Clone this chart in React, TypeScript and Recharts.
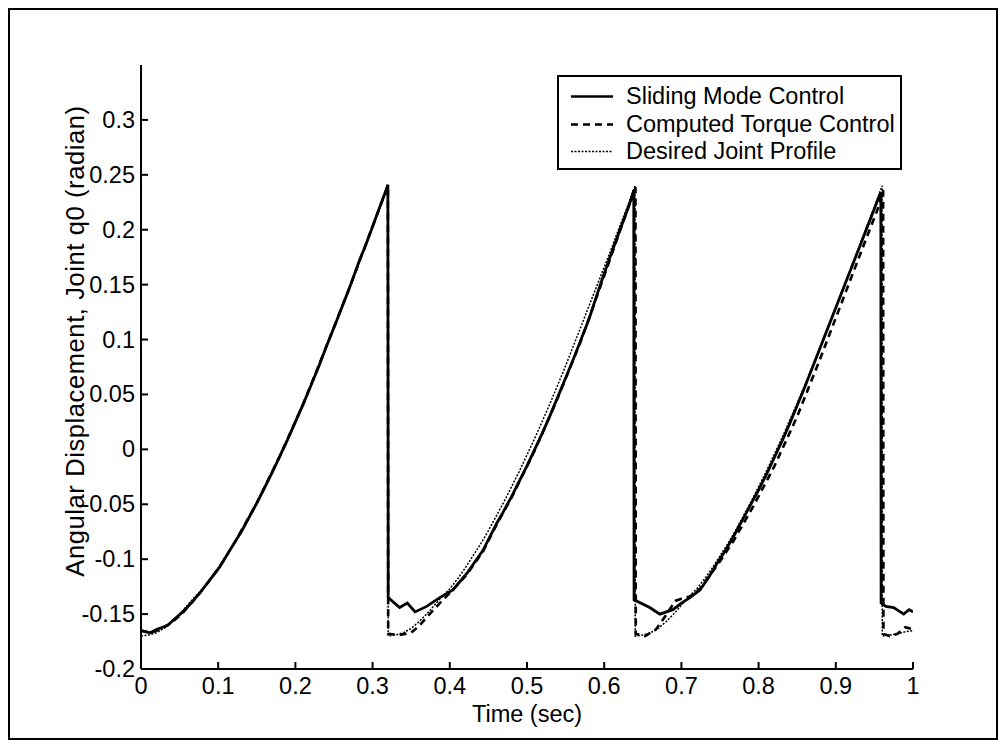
import React from "react";
import { LineChart, Line, XAxis, YAxis } from "recharts";

const FONT = '"Liberation Sans", Arial, Helvetica, sans-serif';
const FS = 23.5;

// Desired joint profile (dotted)
const desiredTime = [
  0, 0.01, 0.02, 0.03, 0.04, 0.05, 0.06, 0.07, 0.08, 0.09, 0.1, 0.11, 0.12, 0.13, 0.14, 0.15, 0.16,
  0.17, 0.18, 0.19, 0.2, 0.21, 0.22, 0.23, 0.24, 0.25, 0.26, 0.27, 0.28, 0.29, 0.3, 0.31, 0.32,
  0.3202, 0.33, 0.34, 0.35, 0.36, 0.37, 0.38, 0.39, 0.4, 0.41, 0.42, 0.43, 0.44, 0.45, 0.46, 0.47,
  0.48, 0.49, 0.5, 0.51, 0.52, 0.53, 0.54, 0.55, 0.56, 0.57, 0.58, 0.59, 0.6, 0.61, 0.62, 0.63, 0.64,
  0.6402, 0.65, 0.66, 0.67, 0.68, 0.69, 0.7, 0.71, 0.72, 0.73, 0.74, 0.75, 0.76, 0.77, 0.78, 0.79,
  0.8, 0.81, 0.82, 0.83, 0.84, 0.85, 0.86, 0.87, 0.88, 0.89, 0.9, 0.91, 0.92, 0.93, 0.94, 0.95, 0.96,
  0.9602, 0.97, 0.98, 0.99, 1,
];
const desiredValue = [
  -0.17, -0.169, -0.167, -0.163, -0.157, -0.15, -0.142, -0.134, -0.127, -0.118, -0.108, -0.097, -0.086,
  -0.074, -0.061, -0.048, -0.034, -0.02, -0.005, 0.01, 0.026, 0.042, 0.059, 0.076, 0.094, 0.112, 0.13,
  0.148, 0.166, 0.184, 0.203, 0.221, 0.24,
  -0.17, -0.169, -0.167, -0.163, -0.157, -0.15, -0.142, -0.134, -0.127, -0.118, -0.108, -0.097, -0.086,
  -0.074, -0.061, -0.048, -0.034, -0.02, -0.005, 0.01, 0.026, 0.042, 0.059, 0.076, 0.094, 0.112, 0.13,
  0.148, 0.166, 0.184, 0.203, 0.221, 0.24,
  -0.17, -0.169, -0.167, -0.163, -0.157, -0.15, -0.142, -0.134, -0.127, -0.118, -0.108, -0.097, -0.086,
  -0.074, -0.061, -0.048, -0.034, -0.02, -0.005, 0.01, 0.026, 0.042, 0.059, 0.076, 0.094, 0.112, 0.13,
  0.148, 0.166, 0.184, 0.203, 0.221, 0.24,
  -0.17, -0.169, -0.168, -0.166, -0.165,
];

// Sliding mode control (solid)
const smcTime = [
  0, 0.012, 0.02, 0.028, 0.035, 0.041, 0.054, 0.065, 0.076, 0.089, 0.102, 0.115, 0.122, 0.13, 0.14,
  0.15, 0.16, 0.17, 0.18, 0.19, 0.2, 0.21, 0.22, 0.23, 0.242, 0.25, 0.26, 0.27, 0.284, 0.29, 0.3, 0.31,
  0.318, 0.3198,
  0.3202, 0.335, 0.345, 0.355, 0.37, 0.387, 0.404, 0.422, 0.443, 0.461, 0.47, 0.48, 0.49, 0.5, 0.51,
  0.52, 0.53, 0.54, 0.55, 0.56, 0.57, 0.58, 0.595, 0.61, 0.62, 0.63, 0.636, 0.6383,
  0.6387, 0.659, 0.672, 0.689, 0.7, 0.711, 0.724, 0.735, 0.746, 0.757, 0.767, 0.78, 0.793, 0.8, 0.81,
  0.82, 0.83, 0.84, 0.85, 0.86, 0.87, 0.88, 0.89, 0.9, 0.91, 0.92, 0.93, 0.94, 0.95, 0.956, 0.9583,
  0.9587, 0.965, 0.975, 0.988, 0.995, 1,
];
const smcValue = [
  -0.165, -0.167, -0.164, -0.162, -0.16, -0.156, -0.148, -0.14, -0.131, -0.119, -0.107, -0.092, -0.084,
  -0.075, -0.062, -0.049, -0.035, -0.021, -0.006, 0.009, 0.025, 0.041, 0.058, 0.075, 0.097, 0.111,
  0.129, 0.147, 0.174, 0.184, 0.203, 0.222, 0.237, 0.241,
  -0.135, -0.144, -0.14, -0.148, -0.143, -0.135, -0.128, -0.113, -0.092, -0.067, -0.056, -0.043,
  -0.029, -0.015, 0.0, 0.015, 0.031, 0.048, 0.065, 0.082, 0.1, 0.118, 0.15, 0.18, 0.199, 0.218, 0.23,
  0.236,
  -0.137, -0.144, -0.15, -0.146, -0.14, -0.135, -0.128, -0.117, -0.104, -0.092, -0.08, -0.063, -0.046,
  -0.037, -0.023, -0.008, 0.007, 0.023, 0.04, 0.057, 0.075, 0.093, 0.111, 0.129, 0.147, 0.165, 0.183,
  0.201, 0.219, 0.23, 0.234,
  -0.14, -0.143, -0.144, -0.15, -0.146, -0.148,
];

// Computed torque control (dashed)
const ctcTime = [
  0, 0.012, 0.028, 0.041, 0.054, 0.076, 0.102, 0.122, 0.15, 0.18, 0.21, 0.242, 0.27, 0.3, 0.3198,
  0.3202, 0.335, 0.35, 0.36, 0.37, 0.387, 0.404, 0.422, 0.443, 0.461, 0.48, 0.51, 0.54, 0.57, 0.6,
  0.62, 0.637, 0.6405,
  0.6409, 0.653, 0.667, 0.68, 0.692, 0.7, 0.711, 0.724, 0.746, 0.767, 0.793, 0.82, 0.85, 0.88, 0.91,
  0.94, 0.955, 0.9613,
  0.9617, 0.97, 0.98, 0.99, 1,
];
const ctcValue = [
  -0.165, -0.167, -0.163, -0.157, -0.149, -0.131, -0.107, -0.084, -0.049, -0.006, 0.041, 0.097, 0.147,
  0.203, 0.24,
  -0.168, -0.169, -0.167, -0.161, -0.153, -0.14, -0.128, -0.114, -0.093, -0.068, -0.044, -0.001, 0.047,
  0.099, 0.158, 0.198, 0.232, 0.239,
  -0.168, -0.17, -0.164, -0.151, -0.138, -0.136, -0.134, -0.127, -0.106, -0.084, -0.052, -0.016, 0.03,
  0.083, 0.138, 0.193, 0.22, 0.236,
  -0.168, -0.17, -0.168, -0.162, -0.164,
];

const yTicks = [-0.2, -0.15, -0.1, -0.05, 0, 0.05, 0.1, 0.15, 0.2, 0.25, 0.3];
const xTicks = [0, 0.1, 0.2, 0.3, 0.4, 0.5, 0.6, 0.7, 0.8, 0.9, 1];

const legendItems = [
  { label: "Sliding Mode Control", dash: undefined as string | undefined, width: 2.5 },
  { label: "Computed Torque Control", dash: "7 5", width: 2.5 },
  { label: "Desired Joint Profile", dash: "2 1.5", width: 1.5 },
];

const toData = (ts: number[], vs: number[]) => ts.map((t, i) => ({ t, v: vs[i] }));
const desiredData = toData(desiredTime, desiredValue);
const smcData = toData(smcTime, smcValue);
const ctcData = toData(ctcTime, ctcValue);

const fmt = (v: number) => {
  if (Math.abs(v) < 1e-9) return "0";
  return String(Math.round(v * 1000) / 1000);
};

const YTick = (props: any) => {
  const { x, y, payload } = props;
  return (
    <g>
      <text x={x} y={y} textAnchor="end" dominantBaseline="central" fontFamily={FONT} fontSize={FS} fill="#000">
        {fmt(payload.value)}
      </text>
      <line x1={x + 6} x2={x + 13} y1={y} y2={y} stroke="#000" strokeWidth={2} />
    </g>
  );
};

const XTick = (props: any) => {
  const { x, y, payload } = props;
  return (
    <g>
      <text x={x} y={y + 2} textAnchor="middle" dominantBaseline="hanging" fontFamily={FONT} fontSize={FS} fill="#000">
        {fmt(payload.value)}
      </text>
      <line x1={x} x2={x} y1={y - 6} y2={y - 13} stroke="#000" strokeWidth={2} />
    </g>
  );
};

const YLabel = (props: any) => {
  const vb = props.viewBox || {};
  const cx = vb.x - 6;
  const cy = vb.y + vb.height / 2 - 26;
  return (
    <text
      x={cx}
      y={cy}
      transform={`rotate(-90, ${cx}, ${cy})`}
      textAnchor="middle"
      dominantBaseline="central"
      fontFamily={FONT}
      fontSize={25.5}
      letterSpacing={0.6}
      fill="#000"
    >
      Angular Displacement, Joint q0 (radian)
    </text>
  );
};

const XLabel = (props: any) => {
  const vb = props.viewBox || {};
  const cx = vb.x + vb.width / 2;
  const cy = vb.y + 45;
  return (
    <text x={cx} y={cy} textAnchor="middle" dominantBaseline="central" fontFamily={FONT} fontSize={FS} fill="#000">
      Time (sec)
    </text>
  );
};

const LegendBox = () => (
  <div
    style={{
      position: "absolute",
      left: 547,
      top: 65,
      width: 345,
      height: 95,
      border: "2px solid #000",
      boxSizing: "border-box",
      background: "#fff",
      overflow: "hidden",
      fontFamily: FONT,
      fontSize: FS,
      color: "#000",
    }}
  >
    {legendItems.map((it, i) => (
      <div key={it.label} style={{ position: "absolute", left: 0, top: 6 + i * 27.5, height: 27, width: 400, whiteSpace: "nowrap" }}>
        <svg width={60} height={27} style={{ position: "absolute", left: 0, top: 0 }}>
          <line x1={12} x2={54} y1={13.5} y2={13.5} stroke="#000" strokeWidth={it.width} strokeDasharray={it.dash} />
        </svg>
        <span style={{ position: "absolute", left: 67, top: 0, lineHeight: "27px" }}>{it.label}</span>
      </div>
    ))}
  </div>
);

export default function App() {
  return (
    <div
      style={{
        position: "relative",
        width: 990,
        height: 732,
        border: "2px solid #000",
        boxSizing: "border-box",
        background: "#fff",
      }}
    >
      <LineChart
        width={986}
        height={728}
        margin={{ top: 55, right: 83, bottom: 29, left: 71 }}
        style={{ fontFamily: FONT }}
      >
        <XAxis
          type="number"
          dataKey="t"
          domain={[0, 1]}
          ticks={xTicks}
          height={40}
          tickSize={0}
          tickMargin={6}
          tickLine={false}
          tick={<XTick />}
          axisLine={{ stroke: "#000", strokeWidth: 2 }}
          allowDataOverflow
          label={<XLabel />}
        />
        <YAxis
          type="number"
          dataKey="v"
          domain={[-0.2, 0.35]}
          ticks={yTicks}
          width={60}
          tickSize={0}
          tickMargin={6}
          tickLine={false}
          tick={<YTick />}
          axisLine={{ stroke: "#000", strokeWidth: 2 }}
          allowDataOverflow
          label={<YLabel />}
        />
        <Line data={desiredData} dataKey="v" type="linear" stroke="#000" strokeWidth={1.5} strokeDasharray="2 1.5" dot={false} isAnimationActive={false} />
        <Line data={ctcData} dataKey="v" type="linear" stroke="#000" strokeWidth={2.6} strokeDasharray="7 5" dot={false} isAnimationActive={false} />
        <Line data={smcData} dataKey="v" type="linear" stroke="#000" strokeWidth={2.8} dot={false} isAnimationActive={false} />
      </LineChart>
      <LegendBox />
    </div>
  );
}
